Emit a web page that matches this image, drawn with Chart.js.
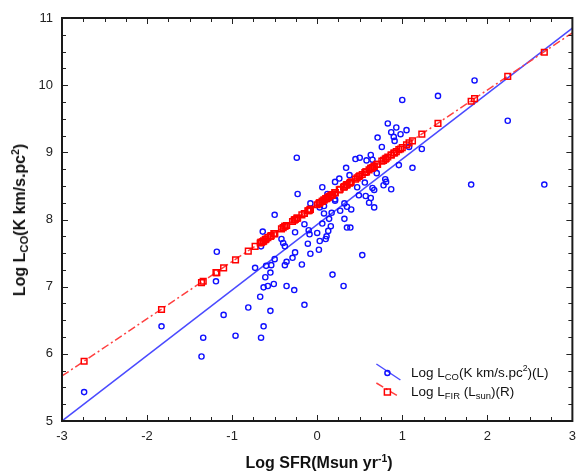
<!DOCTYPE html>
<html>
<head>
<meta charset="utf-8">
<script src="https://cdn.jsdelivr.net/npm/chart.js@4.4.1/dist/chart.umd.min.js"></script>
<style>
  body { margin: 0; background: #fff; }
  #wrap { position: relative; width: 584px; height: 476px; overflow: hidden; }
  .lbl { position: absolute; font-family: "Liberation Sans", Arial, sans-serif; color: #111; white-space: nowrap; }
  .title { font-weight: bold; font-size: 16px; }
  .leg { font-size: 13.5px; transform: translateY(-50%); }
  sub { font-size: 70%; vertical-align: -3px; line-height: 0; }
  sup { font-size: 65%; vertical-align: 6px; line-height: 0; }
</style>
</head>
<body>
<div id="wrap">
  <canvas id="chart" width="584" height="476"></canvas>
  <div class="lbl title" style="left:20px; top:220px; transform:translate(-50%,-50%) rotate(-90deg);">Log L<sub>CO</sub>(K km/s.pc<sup>2</sup>)</div>
  <div class="lbl title" style="left:319px; top:463px; transform:translate(-50%,-50%);">Log SFR(Msun yr<sup>-1</sup>)</div>
  <div class="lbl leg" style="left:411px; top:372px;">Log L<sub>CO</sub>(K km/s.pc<sup>2</sup>)(L)</div>
  <div class="lbl leg" style="left:411px; top:391px;">Log L<sub>FIR</sub> (L<sub>sun</sub>)(R)</div>
</div>
<script>
document.addEventListener('DOMContentLoaded', init);

// values
const logSFR = [-2.74, -1.83, -1.36, -1.34, -1.19, -1.18, -1.10, -0.96, -0.81, -0.73,
    -0.67, -0.66, -0.66, -0.64, -0.63, -0.63, -0.61, -0.60, -0.58, -0.55,
    -0.55, -0.54, -0.51, -0.50, -0.50, -0.42, -0.40, -0.38, -0.38, -0.36,
    -0.36, -0.29, -0.27, -0.26, -0.26, -0.24, -0.23, -0.18, -0.15, -0.15,
    -0.11, -0.10, -0.09, -0.08, -0.08, 0.00, 0.02, 0.03, 0.03, 0.06,
    0.06, 0.08, 0.08, 0.10, 0.11, 0.12, 0.13, 0.14, 0.16, 0.17,
    0.18, 0.21, 0.21, 0.21, 0.26, 0.27, 0.31, 0.32, 0.32, 0.34,
    0.35, 0.35, 0.38, 0.39, 0.40, 0.45, 0.47, 0.49, 0.50, 0.53,
    0.56, 0.57, 0.58, 0.61, 0.63, 0.63, 0.65, 0.65, 0.67, 0.67,
    0.70, 0.71, 0.76, 0.78, 0.80, 0.81, 0.83, 0.87, 0.87, 0.90,
    0.91, 0.93, 0.96, 0.98, 1.00, 1.05, 1.08, 1.12, 1.23, 1.42,
    1.81, 1.85, 2.24, 2.67];
const logLCO = [5.43, 6.41, 5.96, 6.24, 7.08, 7.52, 6.58, 6.27, 6.69, 7.28,
    6.85, 6.24, 7.60, 7.82, 6.41, 6.99, 7.14, 7.31, 7.01, 6.64,
    7.21, 7.32, 7.04, 7.41, 8.07, 7.71, 7.65, 7.60, 7.32, 7.37,
    7.01, 7.43, 6.95, 7.81, 7.51, 8.92, 8.38, 7.33, 7.93, 6.73,
    7.64, 7.84, 7.78, 8.24, 7.49, 7.80, 7.55, 7.68, 8.18, 7.94,
    8.48, 8.20, 8.09, 7.71, 7.75, 8.38, 7.83, 8.01, 7.90, 8.10,
    7.18, 8.28, 8.56, 8.30, 8.61, 8.13, 7.01, 8.24, 8.01, 8.77,
    8.19, 7.88, 8.66, 7.88, 8.15, 8.90, 8.48, 8.36, 8.92, 7.47,
    8.55, 8.35, 8.88, 8.25, 8.96, 8.32, 8.89, 8.47, 8.44, 8.18,
    8.69, 9.22, 9.08, 8.51, 8.60, 8.56, 9.43, 9.30, 8.45, 9.23,
    9.17, 9.37, 8.81, 9.27, 9.78, 9.33, 9.08, 8.77, 9.05, 9.84,
    8.52, 10.07, 9.47, 8.52];
const logLFIR = [5.89, 6.66, 7.06, 7.08, 7.21, 7.21, 7.28, 7.40, 7.53, 7.60,
    7.65, 7.66, 7.66, 7.67, 7.68, 7.68, 7.70, 7.71, 7.73, 7.75,
    7.75, 7.76, 7.79, 7.79, 7.79, 7.86, 7.88, 7.90, 7.90, 7.91,
    7.91, 7.97, 7.99, 8.00, 8.00, 8.02, 8.02, 8.07, 8.09, 8.09,
    8.13, 8.13, 8.14, 8.15, 8.15, 8.22, 8.24, 8.25, 8.25, 8.27,
    8.27, 8.29, 8.29, 8.31, 8.31, 8.32, 8.33, 8.34, 8.36, 8.36,
    8.37, 8.40, 8.40, 8.40, 8.44, 8.45, 8.48, 8.49, 8.49, 8.51,
    8.52, 8.52, 8.54, 8.55, 8.56, 8.60, 8.62, 8.64, 8.65, 8.67,
    8.70, 8.71, 8.71, 8.74, 8.76, 8.76, 8.77, 8.77, 8.79, 8.79,
    8.82, 8.82, 8.87, 8.88, 8.90, 8.91, 8.93, 8.96, 8.96, 8.99,
    8.99, 9.01, 9.04, 9.05, 9.07, 9.11, 9.14, 9.17, 9.27, 9.43,
    9.76, 9.80, 10.13, 10.49];

// fit lines, ends read at the plot edges
const fitX = [-3, 3];
const fitCO = [5.0, 10.85];
const fitFIR = [5.67, 10.78];

const xRange = [-3, 3];
const yRange = [5, 11];

const blue = '#1010ff';
const red = '#ff0000';

let canvas, ctx;

function init() {
    canvas = document.getElementById('chart');
    ctx = canvas.getContext('2d');
    createScatter();
}

// box around the plot with small inward ticks, plus the legend samples
const framePlugin = {
    id: 'frame',
    afterDraw(chart) {
        const c = chart.ctx;
        const a = chart.chartArea;
        const xs = chart.scales.x, ys = chart.scales.y;
        c.save();
        c.strokeStyle = '#222';
        c.lineWidth = 1;
        for (let v = xRange[0]; v <= xRange[1] + 1e-9; v += 0.25) {
            const px = Math.round(xs.getPixelForValue(v)) + 0.5;
            const len = Number.isInteger(v) ? 6 : 4;
            c.beginPath();
            c.moveTo(px, a.bottom); c.lineTo(px, a.bottom - len);
            c.moveTo(px, a.top); c.lineTo(px, a.top + len);
            c.stroke();
        }
        for (let v = yRange[0]; v <= yRange[1] + 1e-9; v += 0.25) {
            const py = Math.round(ys.getPixelForValue(v)) + 0.5;
            const len = Number.isInteger(v) ? 6 : 4;
            c.beginPath();
            c.moveTo(a.left, py); c.lineTo(a.left + len, py);
            c.moveTo(a.right, py); c.lineTo(a.right - len, py);
            c.stroke();
        }
        c.lineWidth = 2;
        c.strokeStyle = '#1a1a1a';
        c.strokeRect(a.left, a.top, a.right - a.left, a.bottom - a.top);

        // legend samples
        const lx = a.right - 196;
        c.lineWidth = 1.5;
        c.strokeStyle = '#4a4aff';
        c.beginPath();
        c.moveTo(lx, a.bottom - 57); c.lineTo(lx + 24, a.bottom - 41);
        c.stroke();
        c.strokeStyle = blue;
        c.beginPath();
        c.arc(lx + 11, a.bottom - 48, 2.5, 0, Math.PI * 2);
        c.stroke();
        c.strokeStyle = '#ff4040';
        c.setLineDash([8, 3, 2, 3]);
        c.beginPath();
        c.moveTo(lx, a.bottom - 38); c.lineTo(lx + 23, a.bottom - 24);
        c.stroke();
        c.setLineDash([]);
        c.strokeStyle = red;
        c.strokeRect(lx + 8, a.bottom - 32, 6, 6);
        c.restore();
    }
};

function createScatter() {
    new Chart(ctx, {
        type: 'scatter',
        data: {
            datasets: [
                {
                    label: 'Log LFIR (Lsun)(R)',
                    data: logSFR.map((x, i) => ({ x: x, y: logLFIR[i] })),
                    pointStyle: 'rect',
                    pointRadius: 4,
                    borderColor: red,
                    backgroundColor: 'rgba(0,0,0,0)',
                    borderWidth: 1.5,
                    order: 0
                },
                {
                    label: 'Log LCO(K km/s.pc2)(L)',
                    data: logSFR.map((x, i) => ({ x: x, y: logLCO[i] })),
                    pointStyle: 'circle',
                    pointRadius: 2.6,
                    borderColor: blue,
                    backgroundColor: 'rgba(0,0,0,0)',
                    borderWidth: 1.4,
                    order: 1
                },
                {
                    label: 'fit CO',
                    data: fitX.map((x, i) => ({ x: x, y: fitCO[i] })),
                    showLine: true,
                    pointRadius: 0,
                    borderColor: '#4a4aff',
                    borderWidth: 1.5,
                    order: 3
                },
                {
                    label: 'fit FIR',
                    data: fitX.map((x, i) => ({ x: x, y: fitFIR[i] })),
                    showLine: true,
                    pointRadius: 0,
                    borderColor: '#ff4040',
                    borderWidth: 1.5,
                    borderDash: [8, 3, 2, 3],
                    order: 2
                }
            ]
        },
        options: {
            responsive: false,
            animation: false,
            layout: {
                padding: { left: 0, right: 7, top: 18, bottom: 0 }
            },
            plugins: {
                legend: { display: false },
                tooltip: { enabled: false }
            },
            scales: {
                x: {
                    type: 'linear',
                    min: xRange[0],
                    max: xRange[1],
                    afterFit: (scale) => { scale.height = 55; },
                    grid: { display: false, drawTicks: false },
                    border: { display: false },
                    ticks: {
                        stepSize: 1,
                        padding: 8,
                        color: '#222',
                        font: { family: '"Liberation Sans", Arial, sans-serif', size: 13 }
                    }
                },
                y: {
                    type: 'linear',
                    min: yRange[0],
                    max: yRange[1],
                    afterFit: (scale) => { scale.width = 62; },
                    grid: { display: false, drawTicks: false },
                    border: { display: false },
                    ticks: {
                        stepSize: 1,
                        padding: 9,
                        color: '#222',
                        font: { family: '"Liberation Sans", Arial, sans-serif', size: 13 }
                    }
                }
            }
        },
        plugins: [framePlugin]
    });
}
</script>
</body>
</html>
